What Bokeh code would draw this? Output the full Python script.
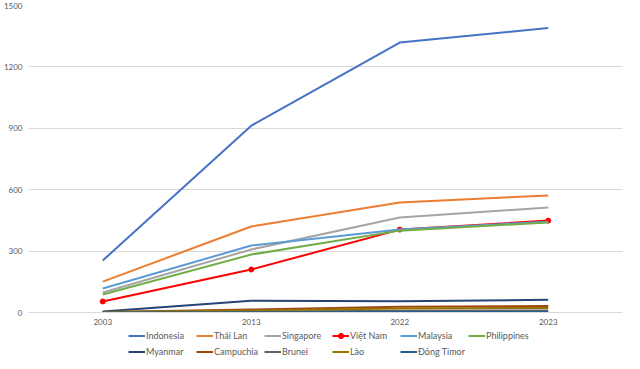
from bokeh.plotting import figure
from bokeh.layouts import column
from bokeh.models import Range1d, FactorRange, Legend, LegendItem, FixedTicker
from bokeh.embed import file_html
from bokeh.resources import INLINE

years = ["2003", "2013", "2022", "2023"]

indonesia = [254, 913, 1319, 1390]
thai_lan = [151, 420, 537, 572]
singapore = [98, 308, 464, 513]
viet_nam = [54, 210, 405, 449]
malaysia = [117, 327, 405, 444]
philippines = [88, 283, 400, 440]
myanmar = [5, 58, 55, 62]
campuchia = [3, 15, 28, 32]
brunei = [2, 5, 8, 10]
lao = [2, 10, 20, 22]
dong_timor = [0.5, 1, 2, 3]

series = [
    ("Indonesia", indonesia, "#4472C4"),
    ("Thái Lan", thai_lan, "#ED7D31"),
    ("Singapore", singapore, "#A5A5A5"),
    ("Việt Nam", viet_nam, "#FF0000"),
    ("Malaysia", malaysia, "#5B9BD5"),
    ("Philippines", philippines, "#70AD47"),
    ("Myanmar", myanmar, "#264478"),
    ("Campuchia", campuchia, "#9E480E"),
    ("Brunei", brunei, "#636363"),
    ("Lào", lao, "#997300"),
    ("Đông Timor", dong_timor, "#255E91"),
]

FONT = "Lato"

p = figure(width=624, height=327, x_range=FactorRange(*years, range_padding=0),
           y_range=Range1d(0, 1500), output_backend="svg", toolbar_location=None,
           min_border_left=20, min_border_right=2, min_border_top=5,
           min_border_bottom=0)
p.outline_line_color = None
p.background_fill_color = "white"
p.border_fill_color = "white"

p.xgrid.grid_line_color = None
p.ygrid.grid_line_color = "#D9D9D9"
p.ygrid.grid_line_width = 1

p.yaxis.ticker = FixedTicker(ticks=[0, 300, 600, 900, 1200, 1500])
p.yaxis.axis_line_color = None
p.yaxis.major_tick_line_color = None
p.yaxis.minor_tick_line_color = None
p.yaxis.major_tick_out = 0
p.yaxis.major_tick_in = 0
p.yaxis.minor_tick_out = 0
p.yaxis.major_label_text_font = FONT
p.yaxis.major_label_text_font_size = "8px"
p.yaxis.major_label_text_color = "#595959"
p.yaxis.major_label_standoff = 6

p.xaxis.axis_line_color = "#D9D9D9"
p.xaxis.major_tick_line_color = None
p.xaxis.minor_tick_line_color = None
p.xaxis.major_tick_out = 0
p.xaxis.major_tick_in = 0
p.xaxis.minor_tick_out = 0
p.xaxis.major_label_text_font = FONT
p.xaxis.major_label_text_font_size = "8px"
p.xaxis.major_label_text_color = "#595959"
p.xaxis.major_label_standoff = 6

# legend figure
lf = figure(width=624, height=31, x_range=Range1d(0, 1), y_range=Range1d(0, 1),
            output_backend="svg", toolbar_location=None,
            x_axis_type=None, y_axis_type=None,
            min_border_left=0, min_border_right=0, min_border_top=0,
            min_border_bottom=0)
lf.outline_line_color = None
lf.xgrid.visible = False
lf.ygrid.visible = False

# off-range placeholder data so the legend-only figure can draw its swatches
ph_x = [-2, -1]
ph_y = [-2, -1]

items = []
for name, vals, color in series:
    p.line(years, vals, line_color=color, line_width=2)
    rs = [lf.line(x=ph_x, y=ph_y, line_color=color, line_width=2)]
    if name == "Việt Nam":
        p.scatter(years, vals, size=5, fill_color=color, line_color=color)
        rs.append(lf.scatter(x=ph_x, y=ph_y, size=5, fill_color=color, line_color=color))
    items.append(LegendItem(label=name, renderers=rs))

legend = Legend(items=items, orientation="horizontal", ncols=6,
                location=(100, 0), padding=0, margin=0, spacing=3,
                label_text_font=FONT, label_text_font_size="9px",
                label_text_color="#595959", glyph_width=17, glyph_height=13,
                label_height=13, label_width=47, label_standoff=1,
                border_line_color=None, background_fill_alpha=0)
lf.add_layout(legend, "center")

layout = column(p, lf, spacing=0)
open("out.html", "w").write(file_html(layout, INLINE))
